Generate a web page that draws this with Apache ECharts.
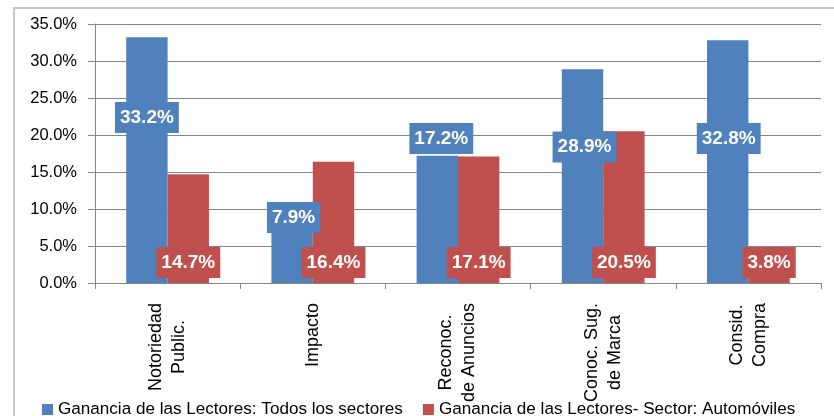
<!DOCTYPE html>
<html>
<head>
<meta charset="utf-8">
<script src="https://cdn.jsdelivr.net/npm/echarts@6/dist/echarts.min.js"></script>
<style>
  html, body { margin: 0; padding: 0; background: #fff; }
  #chart { width: 834px; height: 416px; }
</style>
</head>
<body>
<div id="chart"></div>
<script>
// categorias (eje X)
var categorias = ['Notoriedad\nPublic.', 'Impacto', 'Reconoc.\nde Anuncios', 'Conoc. Sug.\nde Marca', 'Consid.\nCompra'];
// valores en %
var todosSectores = [33.2, 7.9, 17.2, 28.9, 32.8];
var automoviles = [14.7, 16.4, 17.1, 20.5, 3.8];
var nombreSerie1 = 'Ganancia de las Lectores: Todos los sectores';
var nombreSerie2 = 'Ganancia de las Lectores- Sector: Automóviles';
var ticksY = [0, 5, 10, 15, 20, 25, 30, 35];

// desplazamiento manual de las etiquetas azules (como en el Excel original)
var desplazEtiqAzul = [[0, -145], [1.5, -45], [4, -124], [2, -115.5], [1, -124]];

var azul = '#4f81bd';
var rojo = '#c0504d';
var gris = '#868686';
var fuente = 'Liberation Sans';

var chart = echarts.init(document.getElementById('chart'));

function etiqueta(color) {
  return {
    show: true,
    position: 'insideBottom',
    distance: 5,
    formatter: function (p) { return p.value.toFixed(1) + '%'; },
    color: '#fff',
    fontFamily: fuente,
    fontWeight: 'bold',
    fontSize: 19,
    lineHeight: 21,
    padding: [5, 5],
    backgroundColor: color
  };
}

var datosAzul = todosSectores.map(function (v, i) {
  return { value: v, label: { offset: desplazEtiqAzul[i] } };
});

var option = {
  animation: false,
  graphic: [{
    type: 'rect',
    shape: { x: 14, y: 8, width: 840, height: 430 },
    style: { fill: 'none', stroke: '#c6c6c6', lineWidth: 2 },
    silent: true,
    z: -1
  }],
  grid: { left: 95, right: 13, top: 24, bottom: 133 },
  legend: {
    left: 37,
    top: 396,
    icon: 'rect',
    itemWidth: 11,
    itemHeight: 11,
    itemGap: 20,
    textStyle: { fontFamily: fuente, fontSize: 17.1, color: '#000' },
    data: [nombreSerie1, nombreSerie2]
  },
  xAxis: {
    type: 'category',
    data: categorias,
    axisLine: { lineStyle: { color: gris } },
    axisTick: { show: true, length: 6, lineStyle: { color: gris } },
    axisLabel: {
      rotate: 90,
      margin: 20,
      interval: 0,
      formatter: function (v) {
        return v.split('\n').map(function (l) { return '{c|' + l + '}'; }).join('\n');
      },
      rich: {
        c: { align: 'center', fontFamily: fuente, fontSize: 18, lineHeight: 23, color: '#000' }
      }
    }
  },
  yAxis: {
    type: 'value',
    min: ticksY[0],
    max: ticksY[ticksY.length - 1],
    interval: 5,
    axisLine: { show: true, lineStyle: { color: gris } },
    axisTick: { show: true, length: 7, lineStyle: { color: gris } },
    splitLine: { lineStyle: { color: gris } },
    axisLabel: {
      margin: 18,
      fontFamily: fuente,
      fontSize: 16.5,
      color: '#000',
      formatter: function (v) { return v.toFixed(1) + '%'; }
    }
  },
  series: [{
    name: nombreSerie1,
    type: 'bar',
    data: datosAzul,
    barGap: '0%',
    barCategoryGap: '43%',
    itemStyle: { color: azul },
    label: etiqueta(azul)
  }, {
    name: nombreSerie2,
    type: 'bar',
    data: automoviles,
    barGap: '0%',
    barCategoryGap: '43%',
    itemStyle: { color: rojo },
    label: etiqueta(rojo)
  }]
};

chart.setOption(option);
</script>
</body>
</html>
